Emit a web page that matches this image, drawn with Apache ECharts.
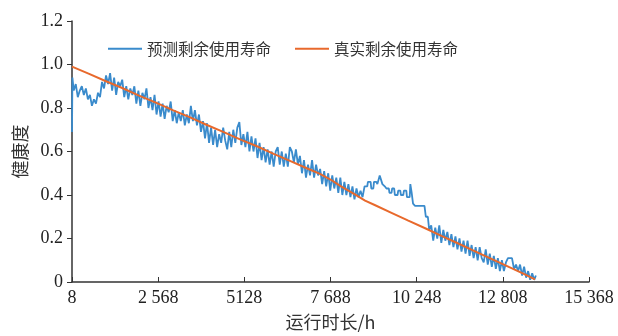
<!DOCTYPE html>
<html>
<head>
<meta charset="utf-8">
<script src="https://cdn.jsdelivr.net/npm/echarts@6/dist/echarts.min.js"></script>
<style>
  html, body { margin: 0; padding: 0; background: #fff; }
  #chart { width: 618px; height: 336px; }
</style>
</head>
<body>
<div id="chart"></div>
<script>
// tick positions on the running-time axis and their printed labels
var xTicks = [8, 2568, 5128, 7688, 10248, 12808, 15368];
var xTickLabels = ['8', '2 568', '5128', '7 688', '10 248', '12 808', '15 368'];

var seriesNames = ['预测剩余使用寿命', '真实剩余使用寿命'];

// predicted health, [hours, health]
var predicted = [
    [8, 0.69], [20, 0.94], [60, 0.88], [120, 0.91], [180, 0.85], [240, 0.88], [300, 0.9],
    [360, 0.86], [420, 0.89], [480, 0.84], [540, 0.86], [600, 0.81], [660, 0.84], [720, 0.82],
    [780, 0.87], [840, 0.85], [900, 0.92], [960, 0.89], [1020, 0.95], [1080, 0.91], [1140, 0.96],
    [1200, 0.88], [1260, 0.94], [1320, 0.86], [1380, 0.92], [1440, 0.9], [1500, 0.93], [1560, 0.85],
    [1620, 0.9], [1680, 0.84], [1740, 0.89], [1800, 0.86], [1860, 0.9], [1920, 0.82], [1980, 0.88],
    [2040, 0.81], [2100, 0.87], [2160, 0.84], [2220, 0.89], [2280, 0.8], [2340, 0.85], [2400, 0.79],
    [2460, 0.86], [2520, 0.77], [2580, 0.83], [2640, 0.76], [2700, 0.82], [2760, 0.75], [2820, 0.81],
    [2880, 0.78], [2940, 0.83], [3000, 0.74], [3060, 0.79], [3120, 0.73], [3180, 0.78], [3240, 0.74],
    [3300, 0.79], [3360, 0.72], [3420, 0.77], [3480, 0.73], [3540, 0.81], [3600, 0.74], [3660, 0.79],
    [3720, 0.72], [3780, 0.77], [3840, 0.69], [3900, 0.74], [3960, 0.66], [4020, 0.73], [4080, 0.64],
    [4140, 0.71], [4200, 0.63], [4260, 0.7], [4320, 0.62], [4380, 0.68], [4440, 0.64], [4500, 0.71],
    [4560, 0.65], [4620, 0.61], [4680, 0.69], [4740, 0.62], [4800, 0.7], [4860, 0.64], [4920, 0.71],
    [4980, 0.735], [5040, 0.63], [5100, 0.68], [5160, 0.62], [5220, 0.69], [5280, 0.6], [5340, 0.67],
    [5400, 0.6], [5460, 0.66], [5520, 0.57], [5580, 0.64], [5640, 0.56], [5700, 0.62], [5760, 0.55],
    [5820, 0.61], [5880, 0.54], [5940, 0.6], [6000, 0.53], [6060, 0.6], [6120, 0.62], [6180, 0.54],
    [6240, 0.6], [6300, 0.53], [6360, 0.59], [6420, 0.53], [6480, 0.62], [6540, 0.6], [6600, 0.55],
    [6660, 0.61], [6720, 0.54], [6780, 0.58], [6840, 0.5], [6900, 0.56], [6960, 0.48], [7020, 0.54],
    [7080, 0.49], [7140, 0.56], [7200, 0.48], [7260, 0.54], [7320, 0.49], [7380, 0.52], [7440, 0.45],
    [7500, 0.51], [7560, 0.44], [7620, 0.5], [7680, 0.42], [7740, 0.49], [7800, 0.43], [7860, 0.48],
    [7920, 0.41], [7980, 0.48], [8040, 0.4], [8100, 0.46], [8160, 0.4], [8220, 0.45], [8280, 0.39],
    [8340, 0.44], [8400, 0.38], [8460, 0.43], [8520, 0.39], [8580, 0.42], [8640, 0.39],
    // calmer stepped stretch
    [8700, 0.44], [8780, 0.44], [8800, 0.46], [8880, 0.46], [8900, 0.43], [8960, 0.43], [8980, 0.46],
    [9050, 0.46], [9080, 0.45], [9130, 0.45], [9150, 0.49], [9200, 0.49], [9230, 0.45], [9300, 0.44],
    [9350, 0.43], [9420, 0.43], [9440, 0.41], [9500, 0.41], [9520, 0.43], [9580, 0.43], [9600, 0.4],
    [9680, 0.4], [9700, 0.42], [9760, 0.42], [9780, 0.4], [9850, 0.4], [9870, 0.42], [9940, 0.42],
    [9960, 0.39], [10040, 0.39], [10060, 0.45], [10100, 0.41], [10140, 0.36], [10200, 0.35],
    [10480, 0.35], [10520, 0.3], [10580, 0.3], [10620, 0.24],
    // noisy tail
    [10680, 0.26], [10740, 0.19], [10800, 0.25], [10860, 0.2], [10920, 0.26], [10980, 0.18],
    [11040, 0.24], [11100, 0.19], [11160, 0.23], [11220, 0.17], [11280, 0.22], [11340, 0.16],
    [11400, 0.21], [11460, 0.15], [11520, 0.2], [11580, 0.14], [11640, 0.19], [11700, 0.13],
    [11760, 0.19], [11820, 0.12], [11880, 0.17], [11940, 0.11], [12000, 0.16], [12060, 0.1],
    [12120, 0.16], [12180, 0.11], [12240, 0.09], [12300, 0.15], [12360, 0.08], [12420, 0.13],
    [12480, 0.07], [12540, 0.12], [12600, 0.06], [12660, 0.11], [12720, 0.05], [12780, 0.1],
    [12840, 0.05], [12900, 0.09], [12960, 0.11], [13020, 0.11], [13080, 0.11], [13140, 0.06],
    [13200, 0.08], [13260, 0.05], [13320, 0.08], [13380, 0.03], [13440, 0.07], [13500, 0.02],
    [13560, 0.05], [13620, 0.01], [13680, 0.04], [13740, 0.01], [13790, 0.03]
];

// real health, [hours, health]
var actual = [
    [8, 0.99], [500, 0.958], [1000, 0.924], [1500, 0.892], [2000, 0.857], [2500, 0.825],
    [3000, 0.79], [3500, 0.758], [4000, 0.723], [4500, 0.69], [5000, 0.656], [5500, 0.624],
    [6000, 0.589], [6500, 0.556], [7000, 0.522], [7375, 0.497], [7700, 0.47], [8000, 0.44],
    [8400, 0.404], [8715, 0.374], [9000, 0.354], [9500, 0.318], [10000, 0.282], [10500, 0.247],
    [11000, 0.211], [11500, 0.176], [12000, 0.14], [12500, 0.104], [13000, 0.068], [13400, 0.04],
    [13764, 0.012]
];

var serif = "'Liberation Serif', 'Times New Roman', 'Noto Sans CJK SC', serif";
var cjk = "'Noto Sans CJK SC', 'Liberation Serif', serif";

var chart = echarts.init(document.getElementById('chart'), null, { renderer: 'canvas' });

chart.setOption({
    animation: false,
    backgroundColor: '#fff',
    grid: { left: 72, right: 29, top: 21, bottom: 52 },
    legend: {
        left: 103,
        top: 36,
        icon: 'rect',
        itemWidth: 34,
        itemHeight: 2,
        itemGap: 24,
        textStyle: { fontFamily: cjk, fontSize: 15.5, color: '#333' },
        data: seriesNames
    },
    xAxis: {
        type: 'value',
        min: 8,
        max: 15368,
        name: '运行时长/h',
        nameLocation: 'middle',
        nameGap: 31,
        nameTextStyle: { fontFamily: cjk, fontSize: 18, color: '#333' },
        splitLine: { show: false },
        axisLine: { lineStyle: { color: '#333', width: 1.5 } },
        axisTick: {
            inside: true,
            length: 5,
            customValues: xTicks,
            lineStyle: { color: '#333' }
        },
        axisLabel: {
            customValues: xTicks,
            margin: 7,
            fontFamily: serif,
            fontSize: 18,
            color: '#222',
            formatter: function (v) {
                var i = xTicks.indexOf(v);
                return i >= 0 ? xTickLabels[i] : '';
            }
        }
    },
    yAxis: {
        type: 'value',
        min: 0,
        max: 1.2,
        interval: 0.2,
        name: '健康度',
        nameLocation: 'middle',
        nameGap: 42,
        nameTextStyle: { fontFamily: cjk, fontSize: 18, color: '#333' },
        splitLine: { show: false },
        axisLine: { show: true, lineStyle: { color: '#333', width: 1.5 } },
        axisTick: { show: true, length: 5, lineStyle: { color: '#333' } },
        axisLabel: {
            margin: 9,
            fontFamily: serif,
            fontSize: 18,
            color: '#222',
            formatter: function (v) { return v === 0 ? '0' : v.toFixed(1); }
        }
    },
    series: [
        {
            name: seriesNames[0],
            type: 'line',
            data: predicted,
            showSymbol: false,
            symbol: 'none',
            color: '#3a8bcc',
            lineStyle: { width: 1.8, color: '#3a8bcc' }
        },
        {
            name: seriesNames[1],
            type: 'line',
            data: actual,
            showSymbol: false,
            symbol: 'none',
            color: '#e8692c',
            lineStyle: { width: 2, color: '#e8692c' }
        }
    ]
});
</script>
</body>
</html>
